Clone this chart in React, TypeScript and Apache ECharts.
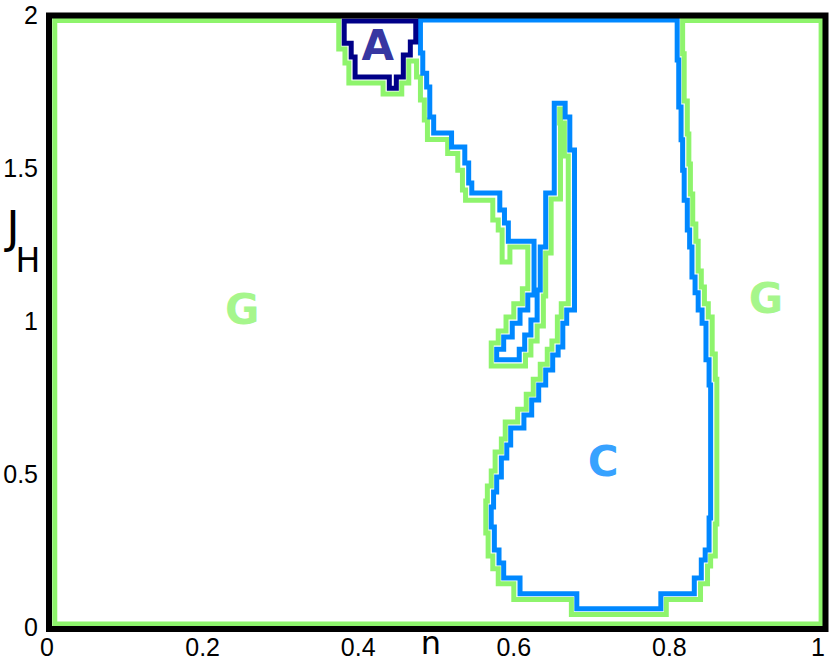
import React, { useEffect, useRef } from "react";
import * as echarts from "echarts";

// axis ticks
const xTicks = [0, 0.2, 0.4, 0.6, 0.8, 1];
const yTicks = [0, 0.5, 1, 1.5, 2];

// G region boundary (light green), traced as a closed staircase in (n, J_H)
const gBoundary: number[][] = [
  [0.375, 1.982], [0.01, 1.982], [0.01, 0.01], [0.995, 0.01], [0.995, 1.982], [0.817, 1.982],
  [0.817, 1.873], [0.819, 1.873], [0.819, 1.719], [0.823, 1.719], [0.823, 1.611], [0.825, 1.611],
  [0.825, 1.513], [0.827, 1.513], [0.827, 1.415], [0.83, 1.415], [0.83, 1.317], [0.834, 1.317],
  [0.834, 1.261], [0.837, 1.261], [0.837, 1.163], [0.841, 1.163], [0.841, 1.111], [0.845, 1.111],
  [0.845, 1.056], [0.85, 1.056], [0.85, 1.013], [0.855, 1.013], [0.855, 0.892], [0.859, 0.892],
  [0.859, 0.81], [0.861, 0.81], [0.861, 0.337], [0.859, 0.337], [0.859, 0.232], [0.853, 0.232],
  [0.853, 0.199], [0.849, 0.199], [0.849, 0.141], [0.84, 0.141], [0.84, 0.09], [0.796, 0.09],
  [0.796, 0.041], [0.674, 0.041], [0.674, 0.09], [0.6, 0.09], [0.6, 0.141], [0.58, 0.141],
  [0.58, 0.19], [0.573, 0.19], [0.573, 0.232], [0.567, 0.232], [0.567, 0.307], [0.564, 0.307],
  [0.564, 0.412], [0.566, 0.412], [0.566, 0.461], [0.571, 0.461], [0.571, 0.51], [0.576, 0.51],
  [0.576, 0.572], [0.584, 0.572], [0.584, 0.614], [0.589, 0.614], [0.589, 0.67], [0.605, 0.67],
  [0.605, 0.712], [0.616, 0.712], [0.616, 0.761], [0.625, 0.761], [0.625, 0.81], [0.634, 0.81],
  [0.634, 0.859], [0.643, 0.859], [0.643, 0.908], [0.649, 0.908], [0.649, 0.935], [0.656, 0.935],
  [0.656, 1.013], [0.661, 1.013], [0.661, 1.056], [0.67, 1.056], [0.67, 1.539], [0.665, 1.539],
  [0.665, 1.647], [0.659, 1.647], [0.659, 1.693], [0.66, 1.693], [0.66, 1.399], [0.648, 1.399],
  [0.648, 1.222], [0.641, 1.222], [0.641, 1.082], [0.638, 1.082], [0.638, 0.984], [0.63, 0.984],
  [0.63, 0.935], [0.622, 0.935], [0.622, 0.889], [0.615, 0.889], [0.615, 0.853], [0.571, 0.853],
  [0.571, 0.928], [0.58, 0.928], [0.58, 0.967], [0.59, 0.967], [0.59, 1.013], [0.6, 1.013],
  [0.6, 1.056], [0.611, 1.056], [0.611, 1.105], [0.618, 1.105], [0.618, 1.242], [0.595, 1.242],
  [0.595, 1.193], [0.585, 1.193], [0.585, 1.297], [0.58, 1.297], [0.58, 1.33], [0.573, 1.33],
  [0.573, 1.395], [0.538, 1.395], [0.538, 1.428], [0.534, 1.428], [0.534, 1.493], [0.528, 1.493],
  [0.528, 1.547], [0.515, 1.547], [0.515, 1.593], [0.489, 1.593], [0.489, 1.657], [0.485, 1.657],
  [0.485, 1.722], [0.48, 1.722], [0.48, 1.797], [0.475, 1.797], [0.475, 1.85], [0.465, 1.85],
  [0.465, 1.778], [0.456, 1.778], [0.456, 1.742], [0.432, 1.742], [0.432, 1.778], [0.388, 1.778],
  [0.388, 1.843], [0.383, 1.843], [0.383, 1.889], [0.375, 1.889], [0.375, 1.982],
];

// C region boundary (blue)
const cBoundary: number[][] = [
  [0.48, 1.984], [0.81, 1.984], [0.81, 1.853], [0.812, 1.853], [0.812, 1.699], [0.815, 1.699],
  [0.815, 1.592], [0.817, 1.592], [0.817, 1.493], [0.819, 1.493], [0.819, 1.395], [0.823, 1.395],
  [0.823, 1.297], [0.826, 1.297], [0.826, 1.242], [0.829, 1.242], [0.829, 1.144], [0.833, 1.144],
  [0.833, 1.092], [0.837, 1.092], [0.837, 1.036], [0.842, 1.036], [0.842, 0.993], [0.847, 0.993],
  [0.847, 0.873], [0.851, 0.873], [0.851, 0.791], [0.853, 0.791], [0.853, 0.356], [0.851, 0.356],
  [0.851, 0.252], [0.846, 0.252], [0.846, 0.219], [0.841, 0.219], [0.841, 0.16], [0.832, 0.16],
  [0.832, 0.109], [0.789, 0.109], [0.789, 0.06], [0.681, 0.06], [0.681, 0.109], [0.608, 0.109],
  [0.608, 0.16], [0.587, 0.16], [0.587, 0.209], [0.581, 0.209], [0.581, 0.252], [0.575, 0.252],
  [0.575, 0.327], [0.571, 0.327], [0.571, 0.392], [0.574, 0.392], [0.574, 0.441], [0.578, 0.441],
  [0.578, 0.49], [0.584, 0.49], [0.584, 0.552], [0.591, 0.552], [0.591, 0.595], [0.596, 0.595],
  [0.596, 0.65], [0.613, 0.65], [0.613, 0.693], [0.623, 0.693], [0.623, 0.742], [0.632, 0.742],
  [0.632, 0.791], [0.641, 0.791], [0.641, 0.84], [0.65, 0.84], [0.65, 0.889], [0.657, 0.889],
  [0.657, 0.915], [0.663, 0.915], [0.663, 0.993], [0.668, 0.993], [0.668, 1.036], [0.678, 1.036],
  [0.678, 1.559], [0.672, 1.559], [0.672, 1.667], [0.666, 1.667], [0.666, 1.712], [0.652, 1.712],
  [0.652, 1.418], [0.641, 1.418], [0.641, 1.242], [0.634, 1.242], [0.634, 1.101], [0.63, 1.101],
  [0.63, 1.003], [0.622, 1.003], [0.622, 0.954], [0.614, 0.954], [0.614, 0.908], [0.607, 0.908],
  [0.607, 0.873], [0.578, 0.873], [0.578, 0.908], [0.587, 0.908], [0.587, 0.948], [0.598, 0.948],
  [0.598, 0.993], [0.608, 0.993], [0.608, 1.036], [0.618, 1.036], [0.618, 1.085], [0.626, 1.085],
  [0.626, 1.261], [0.593, 1.261], [0.593, 1.32], [0.588, 1.32], [0.588, 1.363], [0.582, 1.363],
  [0.582, 1.418], [0.546, 1.418], [0.546, 1.451], [0.542, 1.451], [0.542, 1.516], [0.537, 1.516],
  [0.537, 1.569], [0.52, 1.569], [0.52, 1.614], [0.497, 1.614], [0.497, 1.667], [0.492, 1.667],
  [0.492, 1.765], [0.488, 1.765], [0.488, 1.81], [0.483, 1.81], [0.483, 1.876], [0.48, 1.876],
  [0.48, 1.984],
];

// A region boundary (navy)
const aBoundary: number[][] = [
  [0.382, 1.98], [0.382, 1.908], [0.391, 1.908], [0.391, 1.863], [0.396, 1.863], [0.396, 1.797],
  [0.44, 1.797], [0.44, 1.761], [0.449, 1.761], [0.449, 1.797], [0.458, 1.797], [0.458, 1.869],
  [0.467, 1.869], [0.467, 1.912], [0.474, 1.912], [0.474, 1.98], [0.382, 1.98],
];

// region labels
const regionNames = ["G", "G", "C", "A"];
const regionPositions: number[][] = [
  [0.251, 1.036],
  [0.924, 1.072],
  [0.715, 0.542],
  [0.425, 1.899],
];

const GREEN = "#8ef46c";
const BLUE = "#0088ff";
const NAVY = "#000088";
const regionColors = [GREEN, GREEN, BLUE, NAVY];

export default function App() {
  const ref = useRef<HTMLDivElement>(null);

  useEffect(() => {
    if (!ref.current) return;
    const chart = echarts.init(ref.current, undefined, { renderer: "svg" });

    const lineSeries = (data: number[][], color: string, z: number) => ({
      type: "line",
      data,
      symbol: "none",
      showSymbol: false,
      clip: false,
      z,
      lineStyle: { color, width: 5, join: "miter", cap: "square" },
      silent: true,
    });

    chart.setOption({
      animation: false,
      backgroundColor: "#ffffff",
      grid: { left: 47, right: 5, top: 15, bottom: 34, outerBoundsMode: "none", containLabel: false },
      xAxis: {
        type: "value",
        min: xTicks[0],
        max: xTicks[xTicks.length - 1],
        interval: 0.2,
        axisLine: { show: false },
        axisTick: { show: false },
        splitLine: { show: false },
        axisLabel: {
          color: "#000",
          fontSize: 25,
          lineHeight: 22,
          fontFamily: "Liberation Sans",
          margin: 9,
          alignMaxLabel: "right",
          formatter: (v: number) => String(+v.toFixed(2)),
        },
      },
      yAxis: {
        type: "value",
        min: yTicks[0],
        max: yTicks[yTicks.length - 1],
        interval: 0.5,
        axisLine: { show: false },
        axisTick: { show: false },
        splitLine: { show: false },
        axisLabel: {
          color: "#000",
          fontSize: 25,
          fontFamily: "Liberation Sans",
          margin: 9,
          formatter: (v: number) => String(+v.toFixed(2)),
        },
      },
      series: [
        lineSeries(gBoundary, GREEN, 2),
        lineSeries(cBoundary, BLUE, 3),
        lineSeries(aBoundary, NAVY, 4),
        {
          type: "scatter",
          symbolSize: 1,
          itemStyle: { color: "transparent" },
          z: 5,
          silent: true,
          data: regionPositions.map((p, i) => ({
            value: p,
            label: {
              show: true,
              position: "inside",
              formatter: regionNames[i],
              color: regionColors[i],
              fontSize: 42,
              fontWeight: "bold",
              fontFamily: "DejaVu Sans",
            },
          })),
        },
      ],
      graphic: [
        {
          type: "rect",
          z: 100,
          silent: true,
          shape: { x: 49, y: 15.5, width: 776.5, height: 613.5 },
          style: { fill: "none", stroke: "#000", lineWidth: 6 },
        },
        {
          type: "text",
          z: 100,
          x: 431,
          y: 643,
          style: {
            text: "n",
            fill: "#000",
            font: "32px 'DejaVu Sans'",
            lineHeight: 22,
            align: "center",
            verticalAlign: "middle",
          },
        },
        {
          type: "text",
          z: 100,
          x: 13,
          y: 227,
          style: {
            text: "J",
            fill: "#000",
            font: "44px 'DejaVu Sans'",
            align: "center",
            verticalAlign: "middle",
          },
        },
        {
          type: "text",
          z: 100,
          x: 28,
          y: 260,
          style: {
            text: "H",
            fill: "#000",
            font: "33px 'DejaVu Sans'",
            align: "center",
            verticalAlign: "middle",
          },
        },
      ],
    });

    return () => chart.dispose();
  }, []);

  return (
    <div
      ref={ref}
      style={{ position: "fixed", left: 0, top: 0, width: 830, height: 661, background: "#fff" }}
    />
  );
}
